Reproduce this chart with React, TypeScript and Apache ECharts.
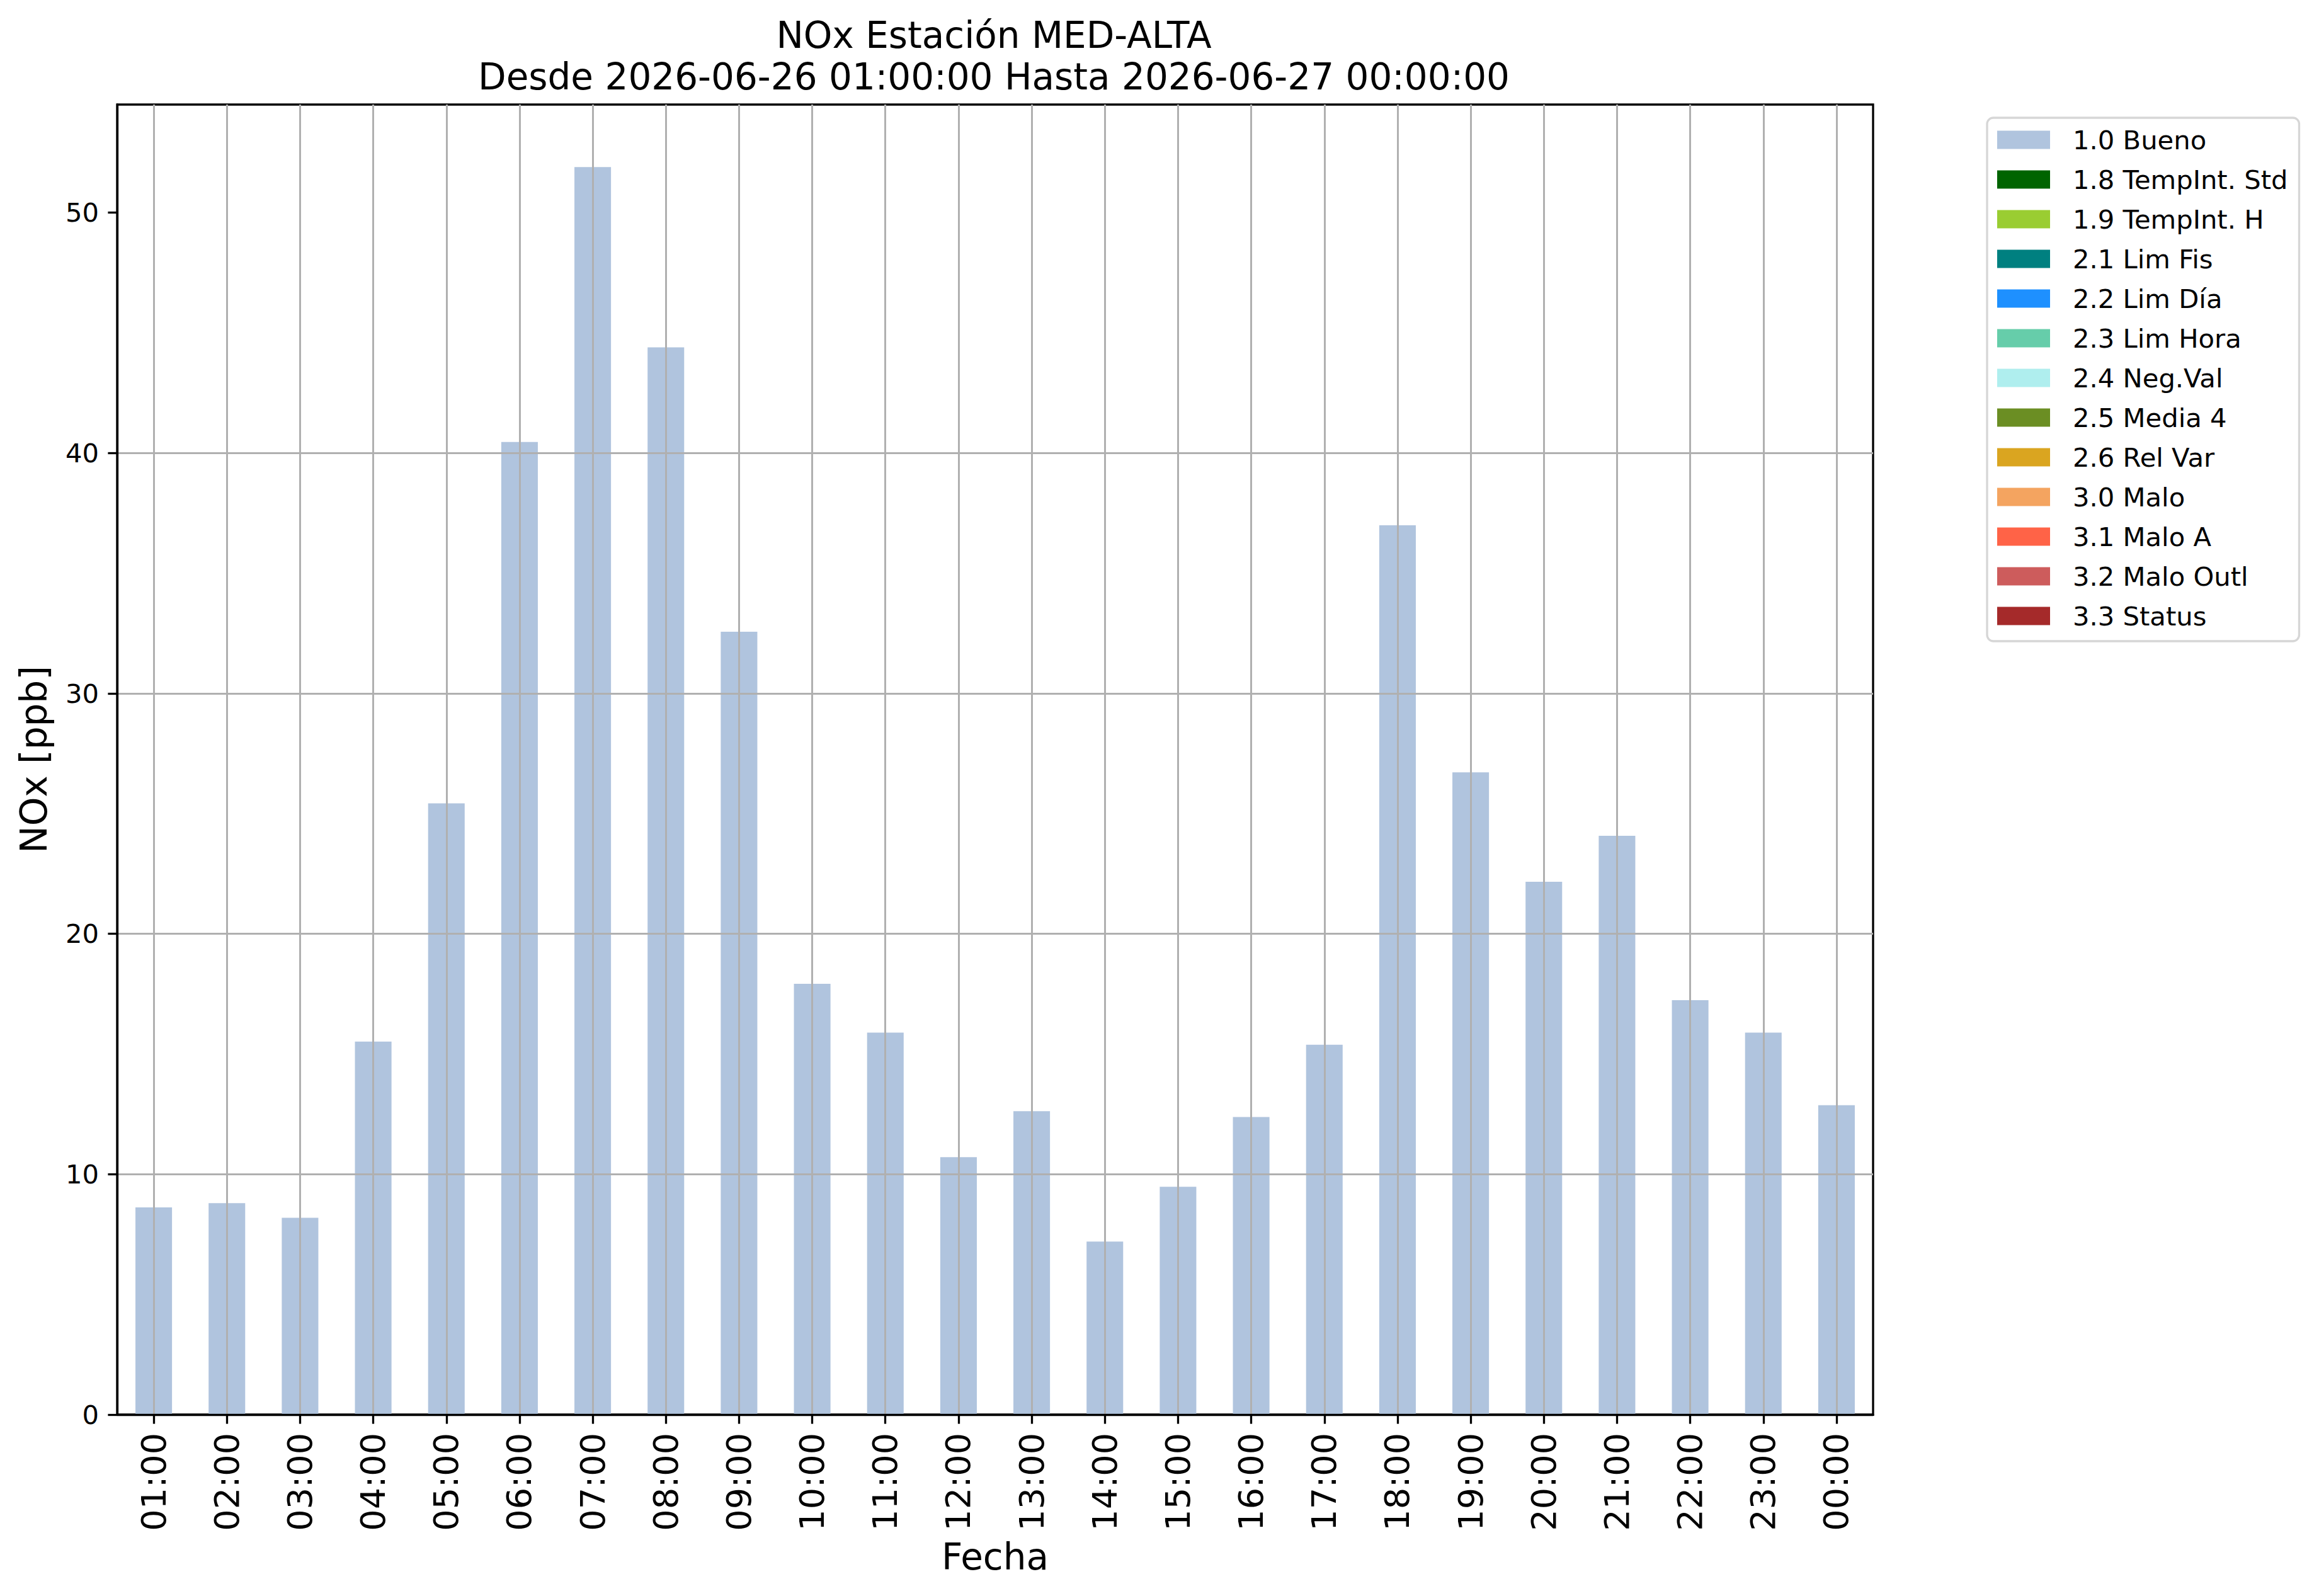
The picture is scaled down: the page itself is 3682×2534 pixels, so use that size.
import React, { useEffect, useRef } from "react";
import * as echarts from "echarts";

const hours = [
  "01:00", "02:00", "03:00", "04:00", "05:00", "06:00", "07:00", "08:00",
  "09:00", "10:00", "11:00", "12:00", "13:00", "14:00", "15:00", "16:00",
  "17:00", "18:00", "19:00", "20:00", "21:00", "22:00", "23:00", "00:00",
];

const noxValues = [
  8.62, 8.8, 8.19, 15.52, 25.43, 40.46, 51.9, 44.4,
  32.57, 17.92, 15.89, 10.71, 12.62, 7.2, 9.48, 12.38,
  15.39, 37.0, 26.72, 22.17, 24.08, 17.24, 15.89, 12.87,
];

const flagNames = [
  "1.0 Bueno", "1.8 TempInt. Std", "1.9 TempInt. H", "2.1 Lim Fis",
  "2.2 Lim Día", "2.3 Lim Hora", "2.4 Neg.Val", "2.5 Media 4",
  "2.6 Rel Var", "3.0 Malo", "3.1 Malo A", "3.2 Malo Outl", "3.3 Status",
];

const flagColors = [
  "#B0C4DE", "#006400", "#9ACD32", "#008080", "#1E90FF", "#66CDAA",
  "#AFEEEE", "#6B8E23", "#DAA520", "#F4A460", "#FF6347", "#CD5C5C", "#A52A2A",
];

const yTicks = [0, 10, 20, 30, 40, 50];

const titleText =
  "NOx Estación MED-ALTA\nDesde 2026-06-26 01:00:00 Hasta 2026-06-27 00:00:00";

const FONT = "DejaVu Sans";

export default function App() {
  const ref = useRef<HTMLDivElement>(null);

  useEffect(() => {
    if (!ref.current) return;
    const chart = echarts.init(ref.current, undefined, { renderer: "svg" });

    const series: any[] = flagNames.map((name, i) => ({
      name,
      type: "bar",
      stack: "flags",
      barWidth: "50%",
      data: i === 0 ? noxValues : [],
      itemStyle: { color: flagColors[i] },
      emphasis: { disabled: true },
    }));

    const option: any = {
      animation: false,
      backgroundColor: "#ffffff",
      textStyle: { fontFamily: FONT },
      title: {
        text: titleText,
        left: 1578,
        top: 23,
        padding: 0,
        textAlign: "center",
        textVerticalAlign: "top",
        textStyle: {
          fontFamily: FONT,
          fontSize: 58,
          lineHeight: 66,
          fontWeight: "normal",
          color: "#000",
        },
      },
      legend: {
        orient: "vertical",
        left: 3155,
        top: 187,
        padding: [14, 18, 19, 16],
        itemWidth: 84,
        itemHeight: 29,
        itemGap: 21,
        icon: "rect",
        selectedMode: false,
        borderColor: "#d6d6d6",
        borderWidth: 3.3,
        borderRadius: 10,
        backgroundColor: "rgba(255,255,255,0.8)",
        textStyle: {
          fontFamily: FONT,
          fontSize: 41.7,
          lineHeight: 42,
          color: "#000",
          padding: [0, 0, 0, 31],
        },
        data: flagNames,
      },
      grid: {
        left: 186,
        top: 166,
        width: 2788,
        height: 2080,
        show: true,
        borderColor: "#000",
        borderWidth: 3.3,
        containLabel: false,
      },
      xAxis: {
        type: "category",
        data: hours,
        z: 3,
        boundaryGap: true,
        axisLine: { show: true, lineStyle: { color: "#000", width: 3.3 } },
        axisTick: {
          show: true,
          alignWithLabel: true,
          interval: 0,
          length: 14.6,
          lineStyle: { color: "#000", width: 3.3 },
        },
        axisLabel: {
          rotate: 90,
          interval: 0,
          fontSize: 54,
          margin: 29,
          color: "#000",
          fontFamily: FONT,
        },
        splitLine: {
          show: true,
          alignWithLabel: true,
          interval: 0,
          lineStyle: { color: "#b0b0b0", width: 3 },
        },
        name: "Fecha",
        nameLocation: "middle",
        nameGap: 197,
        nameTextStyle: { fontSize: 58, color: "#000", fontFamily: FONT },
      },
      yAxis: {
        type: "value",
        min: 0,
        max: 54.5,
        interval: 10,
        z: 3,
        axisLine: { show: true, lineStyle: { color: "#000", width: 3.3 } },
        axisTick: {
          show: true,
          length: 14.6,
          customValues: yTicks,
          lineStyle: { color: "#000", width: 3.3 },
        },
        axisLabel: {
          fontSize: 41.7,
          margin: 29,
          color: "#000",
          fontFamily: FONT,
          customValues: yTicks,
        },
        splitLine: {
          show: true,
          showMinLine: false,
          showMaxLine: false,
          lineStyle: { color: "#b0b0b0", width: 3 },
        },
        name: "NOx [ppb]",
        nameLocation: "middle",
        nameRotate: 90,
        nameGap: 103,
        nameTextStyle: { fontSize: 58, color: "#000", fontFamily: FONT },
      },
      series,
    };

    chart.setOption(option);
    return () => chart.dispose();
  }, []);

  return (
    <div
      ref={ref}
      style={{
        position: "fixed",
        left: 0,
        top: 0,
        width: "3682px",
        height: "2534px",
        background: "#fff",
      }}
    />
  );
}
